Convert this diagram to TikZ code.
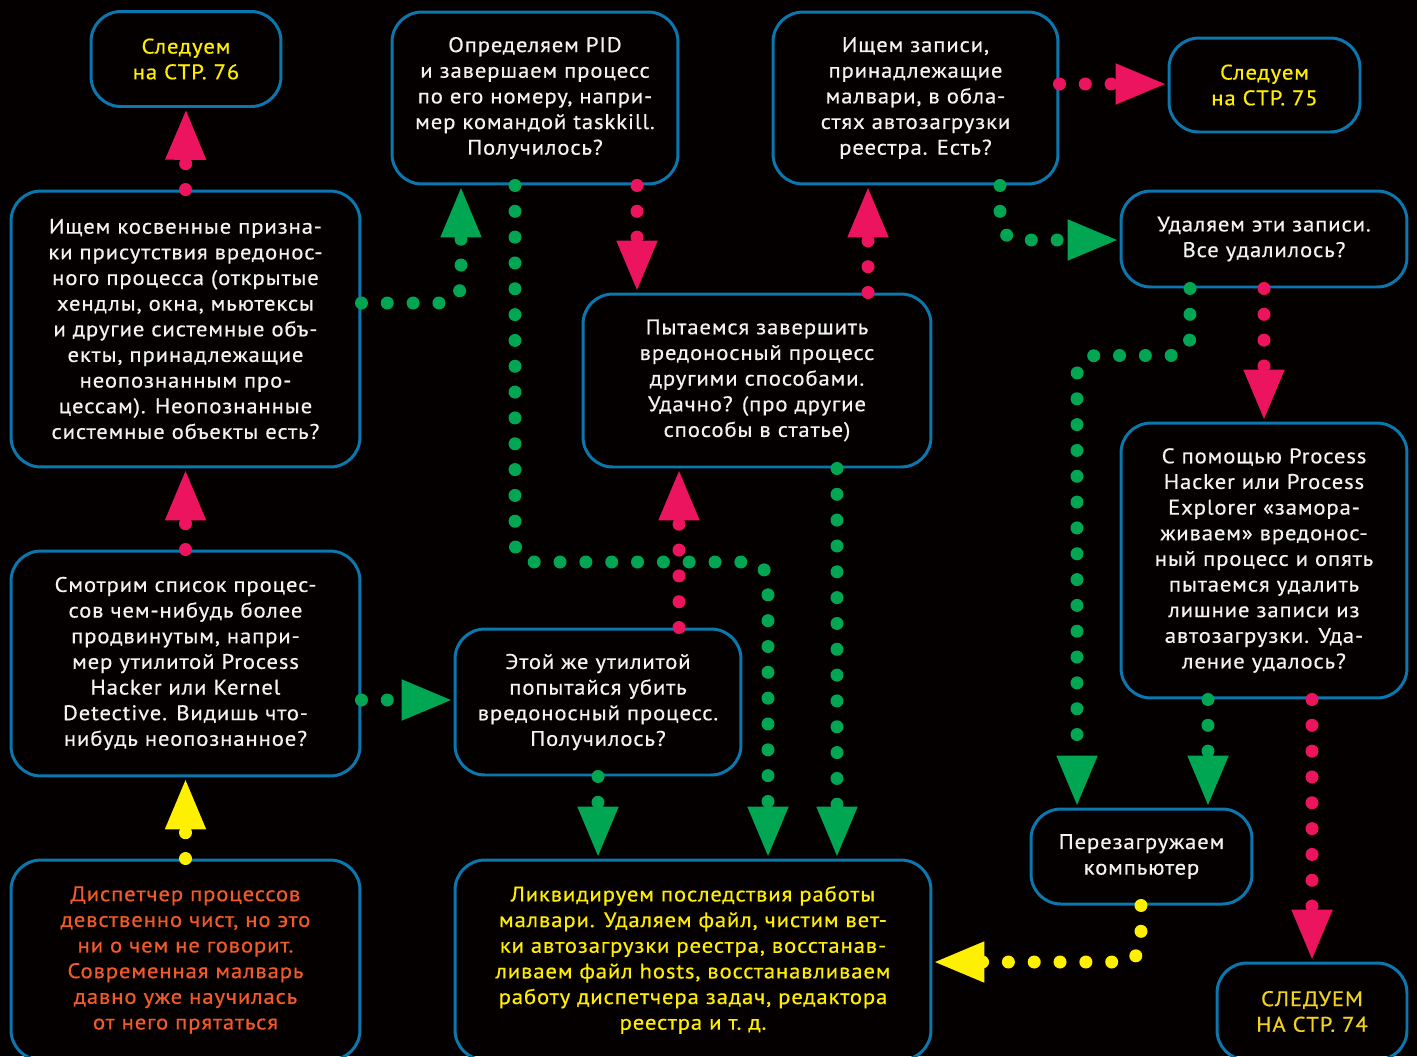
\documentclass[tikz,border=0pt]{standalone}
\usepackage{fontspec}
\setmainfont{PT Sans}[LetterSpace=4, FakeStretch=1.08, FakeBold=0.5]
\usepackage{tikz}
\usetikzlibrary{arrows.meta}
\definecolor{bg}{HTML}{050000}
\definecolor{frame}{HTML}{0A78AE}
\definecolor{txt}{HTML}{F2F2F2}
\definecolor{warn}{HTML}{F15A29}
\definecolor{note}{HTML}{FFEE00}
\definecolor{gold}{HTML}{F2D41E}
\definecolor{yes}{HTML}{00A651}
\definecolor{no}{HTML}{EC145F}
\definecolor{go}{HTML}{FFEF00}
\tikzset{
  box/.style={draw=frame, line width=1.7pt, rounded corners=17pt, text=txt, align=center,
    inner sep=0pt, font=\fontsize{12pt}{14.6pt}\selectfont},
  flow/.style={line width=7.4pt, line cap=round, dash pattern=on 0pt off 14.7pt,
    rounded corners=11pt, -{Triangle[width=21pt,length=29.5pt]}},
  yesline/.style={flow, draw=yes},
  noline/.style={flow, draw=no},
  goline/.style={flow, draw=go},
}

\begin{document}
\begin{tikzpicture}[x=0.02cm, y=-0.02cm]
  \useasboundingbox (0,0) rectangle (1417,1056);
  \fill[bg] (0,0) rectangle (1417,1056);

  % boxes, left column
  \node[box, text=note, minimum width=3.8cm, minimum height=1.9cm] (b76) at (186,59)
    {Следуем\\на СТР. 76};
  \node[box, minimum width=6.98cm, minimum height=5.52cm] (bind) at (185.5,329)
    {Ищем косвенные призна-\\ки присутствия вредонос-\\ного процесса (открытые\\хендлы, окна, мьютексы\\и другие системные объ-\\екты, принадлежащие\\неопознанным про-\\цессам). Неопознанные\\системные объекты есть?};
  \node[box, minimum width=6.98cm, minimum height=4.5cm] (blist) at (185.5,663.5)
    {Смотрим список процес-\\сов чем-нибудь более\\продвинутым, напри-\\мер утилитой Process\\Hacker или Kernel\\Detective. Видишь что-\\нибудь неопознанное?};
  \node[box, text=warn, minimum width=6.98cm, minimum height=4cm] (bclear) at (185.5,960)
    {Диспетчер процессов\\девственно чист, но это\\ни о чем не говорит.\\Современная малварь\\давно уже научилась\\от него прятаться};

  % boxes, middle
  \node[box, minimum width=5.72cm, minimum height=3.44cm] (bpid) at (535,98)
    {Определяем PID\\и завершаем процесс\\по его номеру, напри-\\мер командой taskkill.\\Получилось?};
  \node[box, minimum width=6.96cm, minimum height=3.46cm] (bother) at (757,380.5)
    {Пытаемся завершить\\вредоносный процесс\\другими способами.\\Удачно? (про другие\\способы в статье)};
  \node[box, minimum width=5.72cm, minimum height=2.92cm] (bkill) at (598,702)
    {Этой же утилитой\\попытайся убить\\вредоносный процесс.\\Получилось?};
  \node[box, text=note, minimum width=9.52cm, minimum height=4cm] (bclean) at (693,960)
    {Ликвидируем последствия работы\\малвари. Удаляем файл, чистим вет-\\ки автозагрузки реестра, восстанав-\\ливаем файл hosts, восстанавливаем\\работу диспетчера задач, редактора\\реестра и т.~д.};

  % boxes, right side
  \node[box, minimum width=5.7cm, minimum height=3.44cm] (breg) at (915.5,98)
    {Ищем записи,\\принадлежащие\\малвари, в обла-\\стях автозагрузки\\реестра. Есть?};
  \node[box, text=note, minimum width=3.82cm, minimum height=1.88cm] (b75) at (1264.5,85)
    {Следуем\\на СТР. 75};
  \node[box, minimum width=5.72cm, minimum height=1.92cm] (bdel) at (1264,239)
    {Удаляем эти записи.\\Все удалилось?};
  \node[box, minimum width=5.72cm, minimum height=5.5cm] (bfreeze) at (1264,560.5)
    {С помощью Process\\Hacker или Process\\Explorer «замора-\\живаем» вредонос-\\ный процесс и опять\\пытаемся удалить\\лишние записи из\\автозагрузки. Уда-\\ление удалось?};
  \node[box, minimum width=4.42cm, minimum height=1.9cm] (breboot) at (1141.5,856.5)
    {Перезагружаем\\компьютер};
  \node[box, text=gold, minimum width=3.8cm, minimum height=1.94cm] (b74) at (1312,1011.5)
    {СЛЕДУЕМ\\НА СТР. 74};

  % straight connectors
  \draw[goline] (bclear.north) -- (blist.south);
  \draw[noline] (blist.north) -- (bind.south);
  \draw[noline] (bind.north) -- (b76.south);
  \draw[yesline] (blist.east |- 0,700) -- (bkill.west |- 0,700);
  \draw[noline] (bpid.south -| 637,0) -- (bother.north -| 637,0);
  \draw[noline] (bkill.north -| 679,0) -- (bother.south -| 679,0);
  \draw[yesline] (bkill.south) -- (bclean.north -| 598,0);
  \draw[yesline] (bother.south -| 837,0) -- (bclean.north -| 837,0);
  \draw[noline] (bother.north -| 868,0) -- (breg.south -| 868,0);
  \draw[noline] (breg.east |- 0,84) -- (b75.west |- 0,84);
  \draw[noline] (bdel.south -| 1264,0) -- (bfreeze.north -| 1264,0);
  \draw[yesline] (bfreeze.south -| 1208,0) -- (breboot.north -| 1208,0);
  \draw[noline] (bfreeze.south -| 1312,0) -- (b74.north);

  % connectors with a bend
  \draw[yesline] (bind.east |- 0,303) -| (bpid.south -| 461,0);
  \draw[yesline] (bpid.south -| 515,0) -- (515,562) -| (bclean.north -| 768,0);
  \draw[yesline] (breg.south -| 1000,0) |- (bdel.west |- 0,240);
  \draw[yesline] (bdel.south -| 1190,0) -- ++(0,67) -| (breboot.north -| 1077,0);
  \draw[goline] (breboot.south -| 1141,0) |- (bclean.east |- 0,962);
\end{tikzpicture}
\end{document}
